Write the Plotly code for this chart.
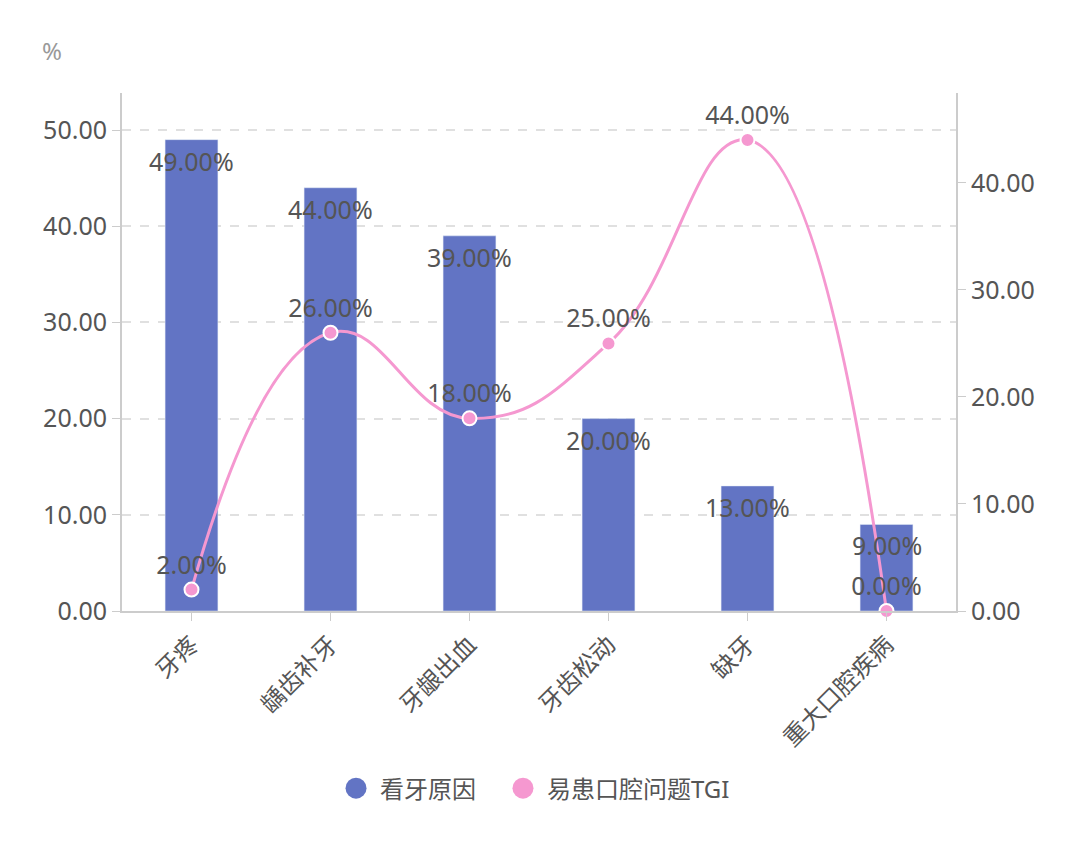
import plotly.graph_objects as go

categories = ["牙疼", "龋齿补牙", "牙龈出血", "牙齿松动", "缺牙", "重大口腔疾病"]
reasons = [49, 44, 39, 20, 13, 9]          # 看牙原因 (%)
tgi = [2, 26, 18, 25, 44, 0]               # 易患口腔问题TGI
series_names = ["看牙原因", "易患口腔问题TGI"]

bar_color = "#6274C4"
line_color = "#F598D0"
font_family = "Noto Sans, Noto Sans CJK SC, sans-serif"
text_color = "#555555"

fig = go.Figure()

# bars on the left axis
fig.add_trace(go.Bar(
    x=categories, y=reasons, name=series_names[0],
    marker=dict(color=bar_color), width=0.38,
    showlegend=False, hoverinfo="skip",
))

# smooth TGI line on the right axis
fig.add_trace(go.Scatter(
    x=categories, y=tgi, yaxis="y2", name=series_names[1],
    mode="lines+markers+text",
    line=dict(color=line_color, width=3, shape="spline", smoothing=1.3),
    marker=dict(color=line_color, size=14, line=dict(color="white", width=2)),
    text=[f"{v:.2f}%" for v in tgi], textposition="top center",
    textfont=dict(size=25, color=text_color),
    showlegend=False, cliponaxis=False,
))

# bar value labels sitting just inside the bar tops
annotations = [
    dict(x=c, y=v, xref="x", yref="y", text=f"{v:.2f}%", showarrow=False,
         yshift=-21, font=dict(size=25, color=text_color))
    for c, v in zip(categories, reasons)
]
annotations.append(dict(
    text="%", xref="paper", yref="paper", x=-0.084, y=1.083,
    xanchor="center", yanchor="middle", showarrow=False,
    font=dict(size=24, color="#999999"),
))

# hand-made legend: big circles + labels below the plot
shapes = []
legend_y = -0.342
for nm, col, lx in zip(series_names, [bar_color, line_color], [0.2806, 0.4808]):
    shapes.append(dict(
        type="circle", xref="paper", yref="paper",
        xsizemode="pixel", ysizemode="pixel", xanchor=lx, yanchor=legend_y,
        x0=-10.5, x1=10.5, y0=-10.5, y1=10.5,
        fillcolor=col, line=dict(width=0),
    ))
    annotations.append(dict(
        text=nm, xref="paper", yref="paper", x=lx + 0.0264, y=legend_y,
        xanchor="left", yanchor="middle", showarrow=False,
        font=dict(size=24, color=text_color),
    ))

# page body has an 8px margin, so margins are shifted to keep the plot box in place
fig.update_layout(
    width=1080, height=846,
    margin=dict(l=114, r=132, t=85, b=243),
    plot_bgcolor="white", paper_bgcolor="white",
    font=dict(family=font_family, size=24, color=text_color),
    showlegend=False,
    xaxis=dict(
        tickangle=-45, showline=True, linecolor="#cccccc", linewidth=2,
        ticks="outside", ticklen=8, tickcolor="#cccccc",
        tickfont=dict(size=24, color=text_color),
    ),
    yaxis=dict(
        range=[0, 53.85], dtick=10, tickformat=".2f",
        showline=True, linecolor="#cccccc", linewidth=2,
        ticks="outside", ticklen=8, tickcolor="#cccccc",
        showgrid=True, gridcolor="#e0e0e0", griddash="dash", gridwidth=1.5,
        zeroline=False, tickfont=dict(size=25, color=text_color),
    ),
    yaxis2=dict(
        range=[0, 48.4], dtick=10, tickformat=".2f", overlaying="y", side="right",
        showline=True, linecolor="#cccccc", linewidth=2,
        ticks="outside", ticklen=8, tickcolor="#cccccc",
        showgrid=False, zeroline=False, tickfont=dict(size=25, color=text_color),
    ),
    shapes=shapes,
    annotations=annotations,
)

fig.write_html("out.html")
